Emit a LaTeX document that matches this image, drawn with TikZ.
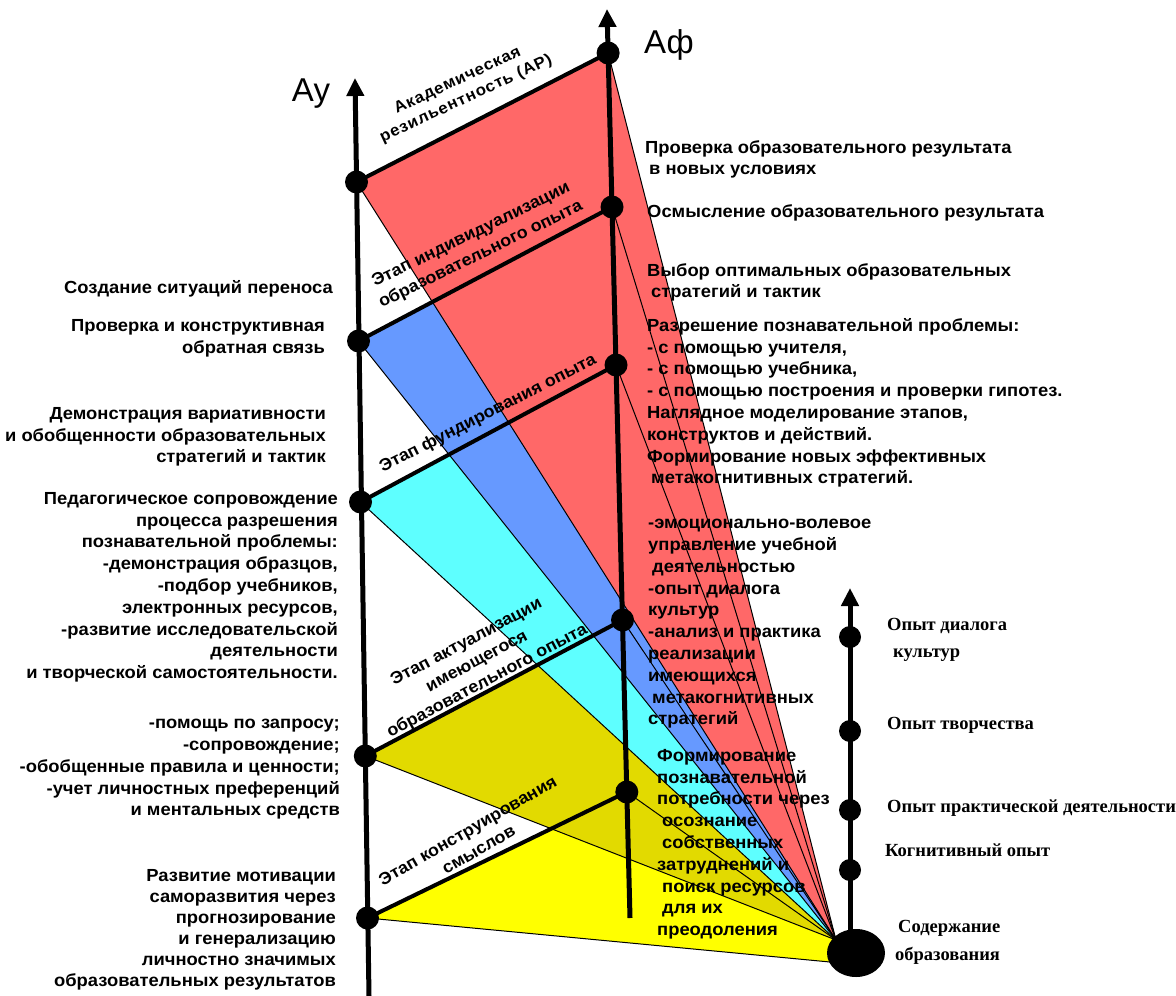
\documentclass[tikz,border=0pt]{standalone}
\usepackage{fontspec}
\setmainfont{Liberation Sans}[FakeStretch=1.05]
\newfontfamily\serfont{Liberation Serif}
\newfontfamily\plainsans{Liberation Sans}
\usetikzlibrary{arrows.meta,shapes.geometric}
\definecolor{cRed}{HTML}{FF6868}
\definecolor{cBlue}{HTML}{6699FF}
\definecolor{cCyan}{HTML}{5EFFFF}
\definecolor{cDarkYel}{HTML}{E2DA00}
\definecolor{cYel}{HTML}{FFFF00}
\begin{document}
\begin{tikzpicture}[x=1pt,y=-1pt,
  axisline/.style={line width=5pt,-{Triangle[length=18pt,width=17pt]}},
  stageline/.style={line width=4pt},
  fanline/.style={line width=1pt},
  blackdot/.style={circle,fill=black,minimum size=23pt,inner sep=0pt},
  smalldot/.style={circle,fill=black,minimum size=22pt,inner sep=0pt},
  txt/.style={font=\fontsize{17.5}{21.8}\selectfont\bfseries,inner sep=0pt},
  stagetxt/.style={font=\fontsize{17}{22}\selectfont\bfseries,inner sep=0pt,align=center},
  sertxt/.style={font=\serfont\fontsize{18.5}{27}\selectfont\bfseries,inner sep=0pt},
  bigtxt/.style={font=\plainsans\fontsize{33}{36}\selectfont,inner sep=0pt}]
\useasboundingbox (0,0) rectangle (1176,996);
% key points
\coordinate (AyB) at (369,996);
\coordinate (AyT) at (355,78);
\coordinate (AfB) at (630,918);
\coordinate (AfT) at (607,9);
\coordinate (RB) at (850,935);
\coordinate (RT) at (850,588);
\coordinate (Ay1) at (356.5,182);
\coordinate (Ay2) at (358.5,341);
\coordinate (Ay3) at (360.5,502);
\coordinate (Ay4) at (365.3,756);
\coordinate (Ay5) at (367.5,918);
\coordinate (Af1) at (608.1,53);
\coordinate (Af2) at (612,207);
\coordinate (Af3) at (616,365);
\coordinate (Af4) at (622.5,620);
\coordinate (Af5) at (626.8,792);
\coordinate (P) at (836,940);
\coordinate (P2) at (830,962);
\coordinate (X2) at (intersection of Ay2--Af2 and Ay1--P);
\coordinate (X3) at (intersection of Ay3--Af3 and Ay2--P);
\coordinate (X4) at (intersection of Ay4--Af4 and Ay3--P);
% fills
\fill[cYel] (Ay5) -- (Af5) -- (P) -- (P2) -- cycle;
\fill[cRed] (Ay1) -- (Af1) -- (P) -- cycle;
\fill[cBlue] (Ay2) -- (X2) -- (P) -- cycle;
\fill[cCyan] (Ay3) -- (X3) -- (P) -- cycle;
\fill[cDarkYel] (Ay4) -- (X4) -- (P) -- cycle;
% fan lines
\foreach \i in {1,2,3,4} {\draw[fanline] (Ay\i) -- (P);}
\draw[fanline] (Ay5) -- (P2);
\foreach \i in {1,2,3,4,5} {\draw[fanline] (Af\i) -- (P);}
% stage lines
\foreach \i in {1,2,3,4,5} {\draw[stageline] (Ay\i) -- (Af\i);}
% axes
\draw[axisline] (AyB) -- (AyT);
\draw[axisline] (AfB) -- (AfT);
\draw[axisline] (RB) -- (RT);
% dots
\foreach \i in {1,2,3,4,5} {\node[blackdot] (day\i) at (Ay\i) {}; \node[blackdot] (daf\i) at (Af\i) {};}
\node[smalldot] (r1) at (850,637) {};
\node[smalldot] (r2) at (850,731) {};
\node[smalldot] (r3) at (850,810) {};
\node[smalldot] (r4) at (850,870) {};
\node[ellipse,fill=black,minimum width=58pt,minimum height=48pt,inner sep=0pt] (apexdot) at (856,953) {};
% axis labels
\node[bigtxt] (lAy) at (311,94) {Ау};
\node[bigtxt] (lAf) at (669,45) {Аф};
% stage labels
\node[stagetxt,font=\fontsize{16}{20}\selectfont\bfseries\addfontfeature{LetterSpace=5},rotate=25] (t1) at (462,90) {Академическая\\резильентность (АР)};
\node[stagetxt,rotate=26] (t2) at (476,245) {Этап индивидуализации\\образовательного опыта};
\node[stagetxt,rotate=27] (t3) at (488,414) {Этап фундирования  опыта};
\node[stagetxt,rotate=28] (t4) at (477,662) {Этап актуализации\\имеющегося\\образовательного опыта};
\node[stagetxt,rotate=30] (t5) at (473,840) {Этап конструирования\\смыслов};
% left texts
\node[txt,anchor=north east,align=right] (L1) at (333,280) {Создание ситуаций переноса};
\node[txt,anchor=north east,align=right] (L2) at (325,319) {Проверка и конструктивная\\обратная связь};
\node[txt,anchor=north east,align=right] (L3) at (326,407) {Демонстрация вариативности\\и обобщенности  образовательных\\стратегий и тактик};
\node[txt,anchor=north east,align=right] (L4) at (338,492) {Педагогическое сопровождение\\процесса разрешения\\познавательной проблемы:\\-демонстрация образцов,\\-подбор учебников,\\электронных ресурсов,\\-развитие исследовательской\\деятельности\\и творческой самостоятельности.};
\node[txt,anchor=north east,align=right] (L5) at (340,719) {-помощь  по запросу;\\-сопровождение;\\-обобщенные  правила и ценности;\\-учет личностных преференций\\и ментальных средств};
\node[txt,anchor=north east,align=right,font=\fontsize{17.5}{21}\selectfont\bfseries] (L6) at (336,869) {Развитие мотивации\\саморазвития  через\\прогнозирование\\и генерализацию\\личностно значимых\\образовательных результатов};
% right texts
\node[txt,anchor=north west,align=left] (R1) at (645,140) {Проверка образовательного результата\\\hspace*{4pt}в новых условиях};
\node[txt,anchor=north west,align=left] (R2) at (647,204) {Осмысление образовательного  результата};
\node[txt,anchor=north west,align=left] (R3) at (647,263) {Выбор оптимальных  образовательных\\\hspace*{4pt}стратегий и тактик};
\node[txt,anchor=north west,align=left] (R4) at (647,318) {Разрешение познавательной проблемы:\\- с помощью  учителя,\\- с помощью  учебника,\\- с помощью  построения и проверки гипотез.\\Наглядное моделирование этапов,\\конструктов  и действий.\\Формирование новых эффективных\\\hspace*{4pt}метакогнитивных  стратегий.};
\node[txt,anchor=north west,align=left] (R5) at (648,519) {-эмоционально-волевое\\управление учебной\\\hspace*{4pt}деятельностью\\-опыт диалога\\культур\\-анализ и практика\\реализации\\имеющихся\\\hspace*{4pt}метакогнитивных\\стратегий};
\node[txt,anchor=north west,align=left] (R6) at (657,749) {Формирование\\познавательной\\потребности  через\\\hspace*{5pt}осознание\\\hspace*{5pt}собственных\\затруднений и\\\hspace*{5pt}поиск ресурсов\\\hspace*{5pt}для их\\преодоления};
% serif labels
\node[sertxt,anchor=north west,align=left] (S1) at (887,618) {Опыт диалога\\\hspace*{6pt}культур};
\node[sertxt,anchor=west] (S2) at (887,725) {Опыт творчества};
\node[sertxt,anchor=west] (S3) at (887,808) {Опыт практической деятельности};
\node[sertxt,anchor=west] (S4) at (885,850) {Когнитивный опыт};
\node[sertxt,anchor=north west,align=left,font=\serfont\fontsize{18.5}{28}\selectfont\bfseries] (S5) at (895,920) {\hspace*{3pt}Содержание\\образования};
\end{tikzpicture}
\end{document}
